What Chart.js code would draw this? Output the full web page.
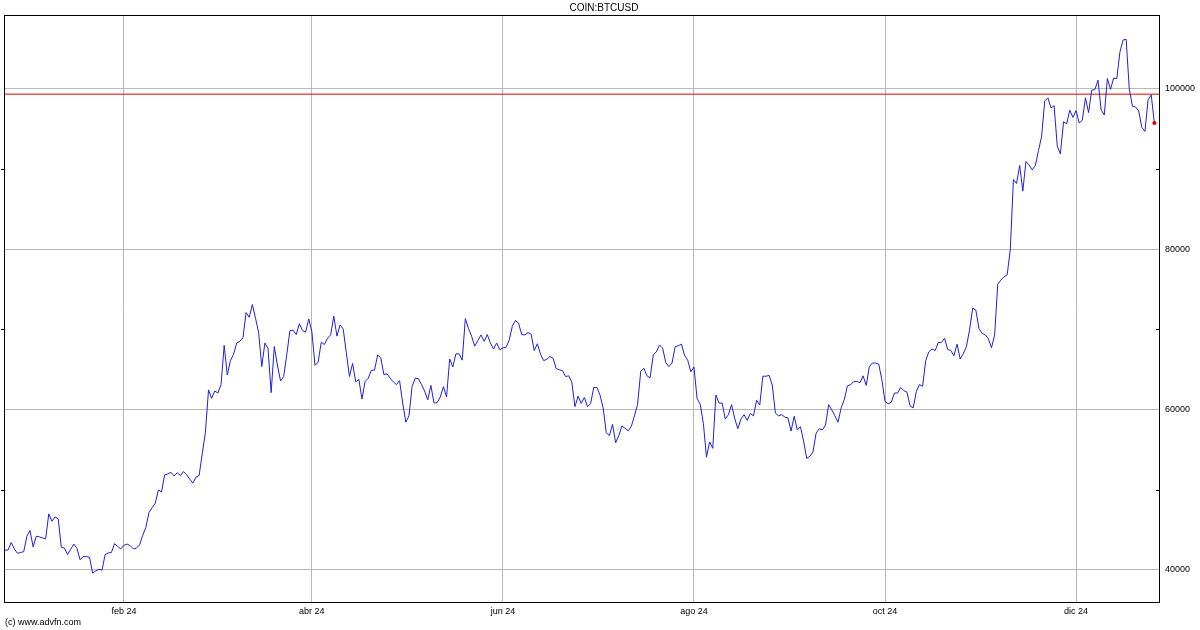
<!DOCTYPE html>
<html>
<head>
<meta charset="utf-8">
<script src="https://cdn.jsdelivr.net/npm/chart.js@4.4.1/dist/chart.umd.min.js"></script>
<style>
  html, body { margin: 0; padding: 0; background: #fff; }
  canvas { display: block; }
</style>
</head>
<body>
<canvas id="myChart" width="1200" height="630"></canvas>
<script>
// BTC/USD daily closes, one array per month (dec 23 starts on the 25th)
var dec23 = [42450, 42450, 43400, 42600, 42050, 42150, 42250];
var jan24 = [44180, 44900, 42850, 44180, 44100, 43970, 43850, 46970, 46050, 46600, 46350, 42800, 42700, 41900, 42550, 43200,
             42650, 41250, 41650, 41650, 41550, 39600, 39850, 40050, 39950, 41900, 42100, 42150, 43250, 42900, 42600];
var feb24 = [43050, 43200, 43000, 42600, 42700, 43100, 44300, 45300, 47150, 47750, 48300, 49950, 49700, 51850, 51950,
             52150, 51700, 52100, 51750, 52250, 51850, 51300, 50800, 51550, 51750, 54500, 57070, 62450, 61400];
var mar24 = [62300, 62050, 63100, 68000, 64300, 66100, 66900, 68300, 68500, 68950, 72100, 71500, 73100, 71400, 69600, 65350,
             68300, 67600, 62100, 67850, 65550, 63550, 64100, 66900, 69850, 69900, 69350, 70700, 69850, 69650, 71300];
var apr24 = [69700, 65500, 65900, 68400, 68100, 68900, 69300, 71650, 69150, 70550, 70050, 67100, 64100, 65750, 63450,
             63750, 61300, 63500, 63900, 64900, 64900, 66800, 66450, 64350, 64450, 63900, 63450, 63100, 63600, 60800];
var may24 = [58400, 59200, 62850, 63900, 63850, 63100, 62300, 61200, 63000, 60800, 60850, 61550, 62850, 61550, 66300, 65300,
             66950, 66950, 66150, 71350, 70100, 69150, 67900, 68600, 69300, 68500, 69350, 68300, 67550, 68300, 67450];
var jun24 = [67700, 67750, 68650, 70400, 71100, 70750, 69350, 69300, 69600, 69400, 67350, 68200, 66900, 66100, 66250,
             66600, 66400, 65100, 64950, 64850, 64100, 64200, 63400, 60350, 61650, 60750, 61500, 60350, 60750, 62750];
var jul24 = [62750, 61800, 60200, 57100, 56750, 58150, 55850, 56750, 57950, 57650, 57350, 57900, 59200, 60650, 64750, 65150,
             64200, 63950, 66800, 67200, 68050, 67650, 65850, 65350, 65800, 67850, 67950, 68150, 66750, 66150, 64700];
var aug24 = [65300, 61350, 60650, 58250, 54050, 55950, 55150, 61800, 60800, 60800, 58800, 59350, 60600, 58900, 57600, 58800,
             59350, 58650, 59500, 59200, 61150, 60550, 64150, 64150, 64250, 63050, 59550, 59200, 59350, 59050, 58950];
var sep24 = [57300, 59150, 57450, 57850, 56050, 53900, 54150, 54700, 57050, 57600, 57450, 58050, 60600, 59950, 59200,
             58400, 60200, 61250, 62950, 63100, 63450, 63500, 63350, 64200, 63000, 65350, 65800, 65800, 65650, 63700];
var oct24 = [61000, 60700, 60900, 62050, 62050, 62750, 62350, 62150, 60450, 60200, 62250, 63100, 62900, 66100, 67200, 67550,
             67350, 68350, 68350, 68900, 67500, 67350, 66700, 68150, 66300, 66950, 67850, 69950, 72650, 72400, 70100];
var nov24 = [69500, 69300, 68850, 67700, 69300, 75650, 76150, 76550, 76800, 79950, 88700, 88200, 90450, 87250, 90950,
             90500, 89900, 90450, 92300, 94100, 98500, 98900, 97650, 97900, 92850, 91900, 95900, 95650, 97350, 96450];
var dec24 = [97300, 95750, 96100, 98900, 97050, 99850, 99900, 101100, 97400, 96750, 101300, 99950, 101350, 101300, 104600,
             106100, 106200, 99950, 97850, 97750, 97250, 95200, 94700, 98650, 99250, 95750];

var monthNames = ['dic 23', 'ene 24', 'feb 24', 'mar 24', 'abr 24', 'may 24', 'jun 24', 'jul 24', 'ago 24', 'sep 24', 'oct 24', 'nov 24', 'dic 24'];
var tickLabels = ['feb 24', 'abr 24', 'jun 24', 'ago 24', 'oct 24', 'dic 24'];
var yTicks = [40000, 50000, 60000, 70000, 80000, 90000, 100000];
var prevClose = 99350;

var months = [dec23, jan24, feb24, mar24, apr24, may24, jun24, jul24, aug24, sep24, oct24, nov24, dec24];

// day index for every close, and where each month starts
var points = [];
var monthStart = {};
months.forEach(function (m, i) {
    monthStart[monthNames[i]] = points.length;
    m.forEach(function (v) { points.push({ x: points.length, y: v }); });
});
var tickPos = tickLabels.map(function (l) { return monthStart[l]; });
var last = points[points.length - 1];

var xMin = -0.3, xMax = 368.8;
var yMin = 35970, yMax = 109230;
var FONT = 'Liberation Sans, Arial, sans-serif';

var framePlugin = {
    id: 'frame',
    afterDraw: function (chart) {
        var c = chart.ctx, a = chart.chartArea, ys = chart.scales.y;
        c.save();
        c.strokeStyle = '#000';
        c.lineWidth = 1;
        c.strokeRect(Math.round(a.left) + 0.5, Math.round(a.top) + 0.5,
            Math.round(a.right - a.left) - 1, Math.round(a.bottom - a.top));
        // short marks for the unlabelled 10000 steps
        c.beginPath();
        yTicks.forEach(function (v) {
            if (v % 20000 === 0) return;
            var py = Math.round(ys.getPixelForValue(v)) + 0.5;
            c.moveTo(a.left - 3, py); c.lineTo(a.left + 1, py);
            c.moveTo(a.right - 4, py); c.lineTo(a.right, py);
        });
        c.stroke();
        c.fillStyle = '#000';
        c.font = '10px ' + FONT;
        c.textAlign = 'center';
        c.textBaseline = 'middle';
        c.fillText('COIN:BTCUSD', 604, 8);
        c.font = '9px ' + FONT;
        c.textAlign = 'left';
        c.fillText('(c) www.advfn.com', 5, 623);
        c.restore();
    }
};

var ctx = document.getElementById('myChart').getContext('2d');
var myChart = new Chart(ctx, {
    type: 'line',
    data: {
        datasets: [{
            label: 'last',
            data: [last],
            showLine: false,
            pointRadius: 2,
            pointBorderWidth: 0,
            pointBackgroundColor: '#e00000',
            order: 0
        }, {
            label: 'COIN:BTCUSD',
            data: points,
            borderColor: '#1f1fe0',
            borderWidth: 1,
            pointRadius: 0,
            tension: 0,
            fill: false,
            order: 1
        }, {
            label: 'prev',
            data: [{ x: xMin, y: prevClose }, { x: xMax, y: prevClose }],
            borderColor: '#e00000',
            borderWidth: 1,
            pointRadius: 0,
            fill: false,
            order: 2
        }]
    },
    options: {
        responsive: false,
        animation: false,
        devicePixelRatio: 1,
        layout: { padding: { top: 15, left: 3, right: 0, bottom: 0 } },
        plugins: {
            legend: { display: false },
            tooltip: { enabled: false }
        },
        scales: {
            x: {
                type: 'linear',
                min: xMin,
                max: xMax,
                afterBuildTicks: function (s) {
                    s.ticks = tickPos.map(function (v) { return { value: v }; });
                },
                afterFit: function (s) { s.height = 28; },
                ticks: {
                    autoSkip: false,
                    maxRotation: 0,
                    padding: 4,
                    color: '#000',
                    font: { family: FONT, size: 9 },
                    callback: function (v, i) { return tickLabels[i]; }
                },
                grid: { color: '#b8b8b8', drawTicks: false },
                border: { display: false }
            },
            y: {
                position: 'right',
                min: yMin,
                max: yMax,
                afterBuildTicks: function (s) {
                    s.ticks = yTicks.map(function (v) { return { value: v }; });
                },
                afterFit: function (s) { s.width = 40; },
                ticks: {
                    padding: 5,
                    color: '#000',
                    font: { family: FONT, size: 9 },
                    callback: function (v) { return v % 20000 === 0 ? String(v) : ''; }
                },
                grid: {
                    drawTicks: false,
                    color: function (c) {
                        return c.tick && c.tick.value % 20000 === 0 ? '#b8b8b8' : 'rgba(0,0,0,0)';
                    }
                },
                border: { display: false }
            }
        }
    },
    plugins: [framePlugin]
});
</script>
</body>
</html>
